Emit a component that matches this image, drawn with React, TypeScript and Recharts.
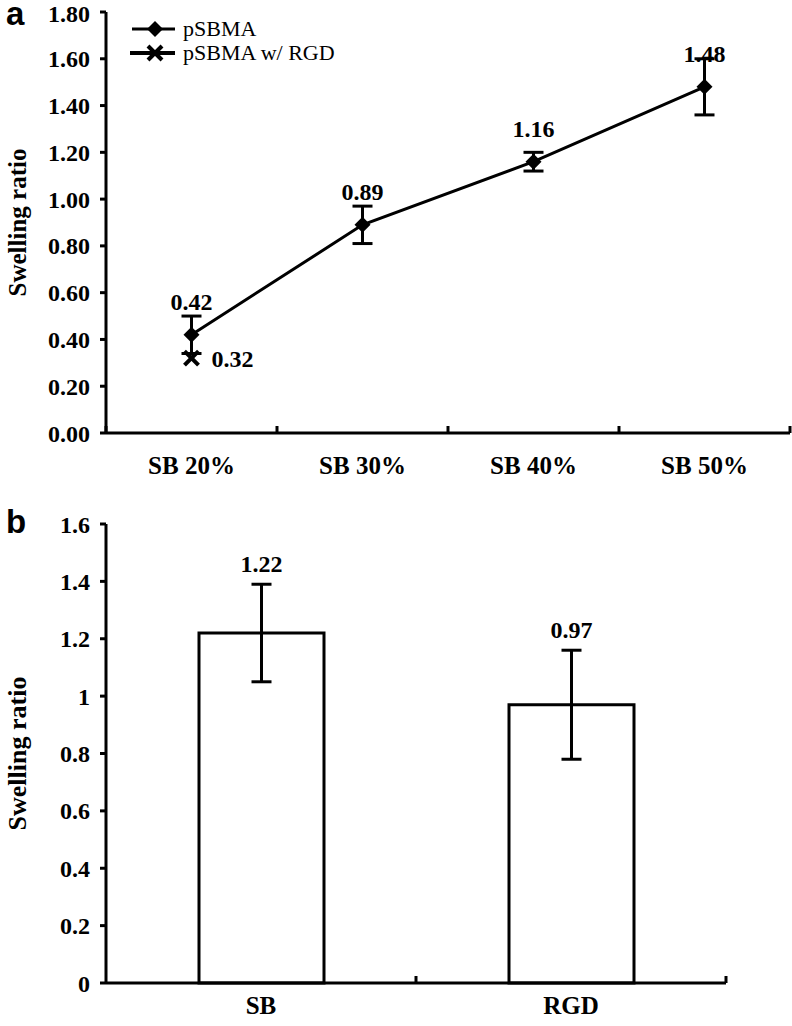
import {
  Bar,
  BarChart,
  ErrorBar,
  LabelList,
  Legend,
  Line,
  LineChart,
  XAxis,
  YAxis,
} from 'recharts'

// panel a
const categories = ['SB 20%', 'SB 30%', 'SB 40%', 'SB 50%']
const pSBMA = [0.42, 0.89, 1.16, 1.48]
const pSBMAErr = [0.08, 0.08, 0.04, 0.12]
const pSBMARgd = [0.32, null, null, null]
const yTicksA = [0, 0.2, 0.4, 0.6, 0.8, 1.0, 1.2, 1.4, 1.6, 1.8]

// panel b
const groups = ['SB', 'RGD']
const ratio = [1.22, 0.97]
const ratioErr = [0.17, 0.19]
const yTicksB = [0, 0.2, 0.4, 0.6, 0.8, 1, 1.2, 1.4, 1.6]

const lineData = categories.map((cat, i) => ({
  cat,
  pSBMA: pSBMA[i],
  err: pSBMAErr[i],
  rgd: pSBMARgd[i],
}))

const barData = groups.map((name, i) => ({ name, value: ratio[i], err: ratioErr[i] }))

const serif = '"Liberation Serif", "Times New Roman", serif'
const tickStyle = { fill: '#000', fontSize: 24, fontWeight: 700, fontFamily: serif }

function Diamond({ cx, cy }: any) {
  if (cx == null || cy == null) return <g />
  return <path d={`M${cx},${cy - 8}L${cx + 8},${cy}L${cx},${cy + 8}L${cx - 8},${cy}Z`} fill='#000' />
}

function Cross({ cx, cy }: any) {
  if (cx == null || cy == null) return <g />
  return (
    <g stroke='#000' strokeWidth={4}>
      <line x1={cx - 7} y1={cy - 7} x2={cx + 7} y2={cy + 7} />
      <line x1={cx - 7} y1={cy + 7} x2={cx + 7} y2={cy - 7} />
    </g>
  )
}

// category tick: label in the middle, tick marks on the band edges pointing up
function BandTick({ x, y, payload, index, visibleTicksCount, half, skipFirst, labelDy }: any) {
  const h = payload.offset || half
  const last = index === visibleTicksCount - 1
  return (
    <g>
      {!(skipFirst && index === 0) && (
        <line x1={x - h} y1={y} x2={x - h} y2={y - 7} stroke='#000' strokeWidth={3} />
      )}
      {last && <line x1={x + h} y1={y} x2={x + h} y2={y - 7} stroke='#000' strokeWidth={3} />}
      <text x={x} y={y + labelDy} textAnchor='middle' {...tickStyle} fontSize={25}>
        {payload.value}
      </text>
    </g>
  )
}

function YLabel({ viewBox, size }: any) {
  const cx = viewBox.x + 17
  const cy = viewBox.y + viewBox.height / 2
  return (
    <text
      x={cx}
      y={cy}
      transform={`rotate(-90, ${cx}, ${cy})`}
      textAnchor='middle'
      dominantBaseline='central'
      fill='#000'
      fontSize={size}
      fontWeight={700}
      fontFamily={serif}
    >
      Swelling ratio
    </text>
  )
}

function LegendA() {
  return (
    <svg width={280} height={50}>
      <line x1={4} y1={13} x2={47} y2={13} stroke='#000' strokeWidth={3} />
      <Diamond cx={27} cy={13} />
      <text x={55} y={20} fontSize={22} fontFamily={serif} fill='#000'>
        pSBMA
      </text>
      <line x1={2} y1={37} x2={47} y2={37} stroke='#000' strokeWidth={4} />
      <Cross cx={27} cy={37} />
      <text x={55} y={44} fontSize={22} fontFamily={serif} fill='#000'>
        pSBMA w/ RGD
      </text>
    </svg>
  )
}

function BarValueLabel({ x, y, width, height, value, index }: any) {
  const perUnit = height / value
  const errTop = y - ratioErr[index] * perUnit
  return (
    <text x={x + width / 2} y={errTop - 12} textAnchor='middle' fill='#000' fontSize={24} fontWeight={700} fontFamily={serif}>
      {value.toFixed(2)}
    </text>
  )
}

const axisLine = { stroke: '#000', strokeWidth: 3 }
const tickLine = { stroke: '#000', strokeWidth: 3 }
const valueLabel = { fill: '#000', fontSize: 24, fontWeight: 700, fontFamily: serif }

export default function App() {
  return (
    <div style={{ position: 'absolute', left: 0, top: 0, width: 792, height: 1026, background: '#fff' }}>
      <svg width={40} height={1026} style={{ position: 'absolute', left: 0, top: 0 }}>
        <text x={6} y={25} fontSize={33} fontWeight={700} fontFamily='"Liberation Sans", Arial, sans-serif' fill='#000'>
          a
        </text>
        <text x={6} y={533} fontSize={33} fontWeight={700} fontFamily='"Liberation Sans", Arial, sans-serif' fill='#000'>
          b
        </text>
      </svg>

      <div style={{ position: 'absolute', left: 0, top: 0 }}>
        <LineChart width={792} height={480} data={lineData} margin={{ top: 12, right: 2, left: 0, bottom: 0 }}>
          <XAxis
            dataKey='cat'
            scale='band'
            height={47}
            axisLine={axisLine}
            tickLine={false}
            tickSize={0}
            tickMargin={0}
            interval={0}
            tick={<BandTick half={85.5} labelDy={41} />}
          />
          <YAxis
            width={106}
            domain={[0, 1.8]}
            ticks={yTicksA}
            tickFormatter={(v: number) => v.toFixed(2)}
            axisLine={axisLine}
            tickLine={tickLine}
            tickSize={6}
            tickMargin={10}
            tick={tickStyle}
            label={<YLabel size={25} />}
          />
          <Legend
            layout='vertical'
            align='center'
            verticalAlign='middle'
            content={() => <LegendA />}
            wrapperStyle={{ top: 16, left: 128, width: 280, height: 50 }}
          />
          <Line
            dataKey='pSBMA'
            stroke='#000'
            strokeWidth={3}
            dot={<Diamond />}
            activeDot={false}
            isAnimationActive={false}
          >
            <ErrorBar dataKey='err' width={10} stroke='#000' strokeWidth={3} />
            <LabelList
              dataKey='pSBMA'
              position='top'
              offset={25}
              formatter={(v: any) => (v == null ? '' : Number(v).toFixed(2))}
              {...valueLabel}
            />
          </Line>
          <Line
            dataKey='rgd'
            stroke='#000'
            strokeWidth={3}
            dot={<Cross />}
            activeDot={false}
            isAnimationActive={false}
          >
            <LabelList
              dataKey='rgd'
              position='right'
              offset={20}
              formatter={(v: any) => (v == null ? '' : Number(v).toFixed(2))}
              {...valueLabel}
            />
          </Line>
        </LineChart>
      </div>

      <div style={{ position: 'absolute', left: 0, top: 490 }}>
        <BarChart width={792} height={536} data={barData} margin={{ top: 34, right: 66, left: 0, bottom: 0 }}>
          <XAxis
            dataKey='name'
            height={43}
            axisLine={axisLine}
            tickLine={false}
            tickSize={0}
            tickMargin={0}
            interval={0}
            tick={<BandTick half={155} skipFirst labelDy={31} />}
          />
          <YAxis
            width={106}
            domain={[0, 1.6]}
            ticks={yTicksB}
            tickFormatter={(v: number) => String(Math.round(v * 10) / 10)}
            axisLine={axisLine}
            tickLine={tickLine}
            tickSize={6}
            tickMargin={10}
            tick={tickStyle}
            label={<YLabel size={26} />}
          />
          <Bar dataKey='value' fill='#fff' stroke='#000' strokeWidth={3} barSize={125} isAnimationActive={false}>
            <ErrorBar dataKey='err' width={10} stroke='#000' strokeWidth={3} />
            <LabelList dataKey='value' content={<BarValueLabel />} />
          </Bar>
        </BarChart>
      </div>
    </div>
  )
}
